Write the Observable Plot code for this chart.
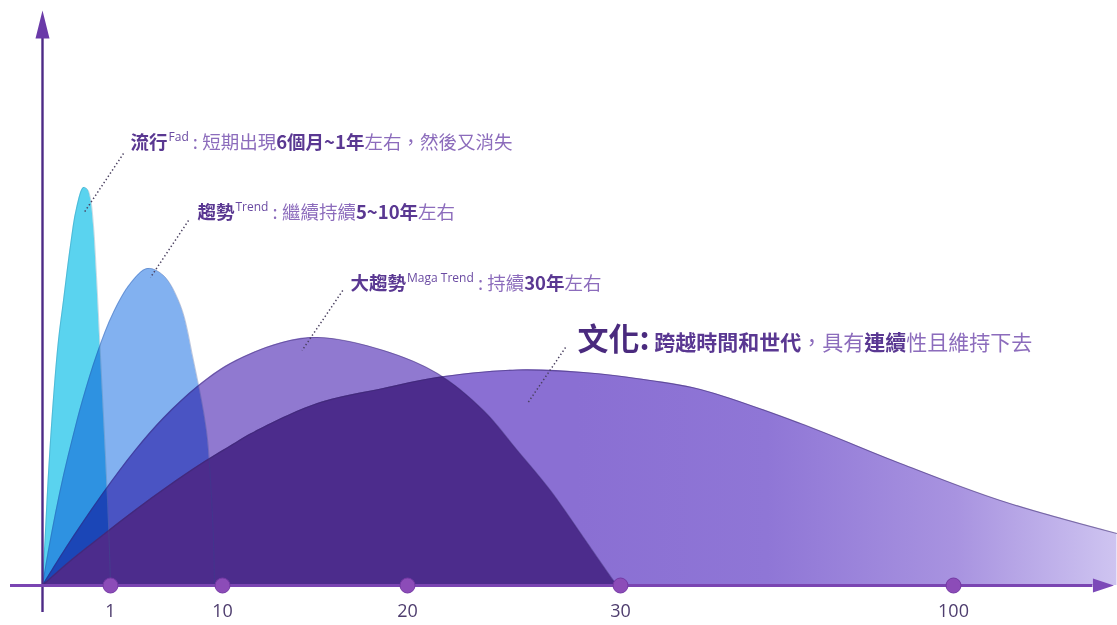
<!DOCTYPE html>
<html><head><meta charset="utf-8">
<script src="https://cdn.jsdelivr.net/npm/d3@7"></script>
<script src="https://cdn.jsdelivr.net/npm/@observablehq/plot@0.6"></script>
<style>
html,body{margin:0;padding:0;background:#fff;}
#chart{width:1117px;height:625px;overflow:hidden;}
</style></head><body><div id="chart"></div>
<script>
// ---- time axis (years), drawn unevenly in the original ----
const axisBreaks = [-0.47, 0, 1, 10, 20, 30, 100, 131];
const tickYears  = [1, 10, 20, 30, 100];
const tickLabels = ["1", "10", "20", "30", "100"];
const xAxisSpan  = [-0.47, 129.4];
const yAxisSpan  = [-5.4, 109.4];

// ---- curves: years vs. popularity (arbitrary units) ----
const fadYears  = [0, 0.037, 0.074, 0.118, 0.176, 0.235, 0.309, 0.412, 0.5, 0.603, 0.662, 0.706, 0.75, 0.794, 0.838, 0.882, 0.926, 0.956, 0.985, 1.0];
const fadValues = [0, 9, 19, 29, 40, 49, 57, 68, 75.4, 79.6, 79.2, 77.4, 72, 62, 50, 38, 26, 17, 7, 0];

const trendYears  = [0, 0.088, 0.191, 0.309, 0.441, 0.588, 0.809, 1.241, 2.607, 3.973, 5.259, 6.625, 7.67, 8.715, 9.036, 9.277, 9.357];
const trendValues = [0, 7, 14.4, 22, 29.4, 37, 46.6, 54.6, 60.4, 63.4, 62, 56, 45, 31, 21, 9, 0];

const megaYears  = [0, 0.382, 0.882, 3.009, 5.259, 7.991, 10.432, 13.135, 15.135, 18.703, 21.408, 23.568, 25.164, 26.714, 28.263, 29.671, 29.859];
const megaValues = [0, 8.3, 18.3, 27.1, 33.5, 39.8, 44.4, 48.5, 49.6, 47, 42.4, 35, 27, 19, 9.6, 1, 0];

const cultureYears  = [0, 0.382, 0.882, 3.009, 5.661, 8.393, 10.703, 11.514, 15.135, 18.703, 21.408, 25.164, 28.263, 36.306, 46.82, 67.84, 88.86, 109.88, 134.47];
const cultureValues = [0, 4.6, 10, 15.1, 19.9, 24.5, 28.5, 30.3, 36.4, 39.4, 41.6, 43.1, 42.6, 41, 39.2, 32.4, 24.4, 17, 10.4];

// ---- annotations ----
const annoNames  = ["流行", "趨勢", "大趨勢", "文化:"];
const annoSups   = ["Fad", "Trend", "Maga Trend", ""];
const annoTexts  = [" : 短期出現**6個月~1年**左右，然後又消失", " : 繼續持續**5~10年**左右", " : 持續**30年**左右", " **跨越時間和世代**，具有**連續**性且維持下去"];
const annoYears  = [2.607, 7.99, 16.92, 27.98];
const annoValues = [87.4, 73.4, 59.2, 47.2];
const leaderFromYears  = [2.045, 7.27, 16.5, 27.42];
const leaderFromValues = [86.4, 73, 59, 47.6];
const leaderToYears    = [0.603, 4.21, 14.3, 25.63];
const leaderToValues   = [74.4, 61.6, 47, 36.4];

const toRows = (xs, ys) => xs.map((x, i) => ({year: x, value: ys[i]}));
const fad = toRows(fadYears, fadValues);
const trend = toRows(trendYears, trendValues);
const mega = toRows(megaYears, megaValues);
const culture = toRows(cultureYears, cultureValues);
const annos = annoNames.map((n, i) => ({
  name: n, sup: annoSups[i], text: annoTexts[i],
  year: annoYears[i], value: annoValues[i],
  fx: leaderFromYears[i], fy: leaderFromValues[i], tx: leaderToYears[i], ty: leaderToValues[i]
}));

const W = 1117, H = 625;
const arrowUp = {draw(c) { c.moveTo(0, -28); c.lineTo(7, 0); c.lineTo(-7, 0); c.closePath(); }};
const arrowRight = {draw(c) { c.moveTo(21, 0); c.lineTo(0, -7); c.lineTo(0, 7); c.closePath(); }};
const curve = "catmull-rom";

const svg = Plot.plot({
  width: W, height: H,
  marginTop: 25, marginBottom: 40, marginLeft: 0, marginRight: 0,
  style: {background: "#fff", fontFamily: "'Noto Sans CJK TC', 'Noto Sans', sans-serif"},
  x: {type: "linear", domain: axisBreaks, range: [10, 42, 110, 222, 407, 620, 953, 1100], axis: null},
  y: {domain: [0, 112], axis: null},
  marks: [
    Plot.areaY(culture, {x: "year", y: "value", fill: "url(#cultureGrad)", curve}),
    Plot.areaY(mega, {x: "year", y: "value", fill: "#9079d0", curve}),
    Plot.areaY(trend, {x: "year", y: "value", fill: "#74a8ee", fillOpacity: 0.9, curve, mixBlendMode: "multiply"}),
    Plot.areaY(fad, {x: "year", y: "value", fill: "#5ad3ef", curve, mixBlendMode: "multiply"}),
    Plot.lineY(culture, {x: "year", y: "value", stroke: "#3a2870", strokeOpacity: 0.55, strokeWidth: 1.2, curve}),
    Plot.lineY(mega, {x: "year", y: "value", stroke: "#3a2870", strokeOpacity: 0.45, strokeWidth: 1.1, curve}),
    Plot.lineY(trend, {x: "year", y: "value", stroke: "#2a4a90", strokeOpacity: 0.3, strokeWidth: 1, curve}),
    Plot.lineY(fad, {x: "year", y: "value", stroke: "#2a7090", strokeOpacity: 0.25, strokeWidth: 1, curve}),
    // axes
    Plot.ruleX([0], {y1: yAxisSpan[0], y2: yAxisSpan[1], stroke: "#4d2a86", strokeWidth: 2.4}),
    Plot.dot([0], {x: d => d, y: yAxisSpan[1], symbol: arrowUp, fill: "#6a3aa8", stroke: "none"}),
    Plot.ruleY([0], {x1: xAxisSpan[0], x2: xAxisSpan[1], stroke: "#7a45b2", strokeWidth: 3}),
    Plot.dot([0], {x: xAxisSpan[1], y: d => d, symbol: arrowRight, fill: "#7c4ab8", stroke: "none"}),
    Plot.dot(tickYears, {x: d => d, y: 0, r: 7.5, fill: "#8c4cb8", stroke: "#7438a4", strokeWidth: 1}),
    Plot.text(tickYears, {x: d => d, y: 0, text: (d, i) => tickLabels[i], dy: 26, fontSize: 18,
      fill: "#4e3d6e", fontFamily: "'Open Sans', sans-serif"}),
    // annotations
    Plot.link(annos, {x1: "fx", y1: "fy", x2: "tx", y2: "ty", stroke: "#4a4060", strokeWidth: 1.5, strokeDasharray: "1.4 2.4"}),
    Plot.text(annos, {x: "year", y: "value", text: d => d.name + d.sup + d.text.replace(/\*\*/g, ""),
      textAnchor: "start", lineAnchor: "bottom", fontSize: 19, fill: "#8a6ab8"})
  ]
});

const ns = "http://www.w3.org/2000/svg";
const xs = svg.scale("x");
const defs = document.createElementNS(ns, "defs");
defs.innerHTML = `<linearGradient id="cultureGrad" gradientUnits="userSpaceOnUse" x1="${xs.apply(28)}" y1="0" x2="${xs.apply(135)}" y2="0">
  <stop offset="0" stop-color="#8a6fd3"/><stop offset="0.35" stop-color="#8f76d6"/><stop offset="0.7" stop-color="#a893e0"/><stop offset="1" stop-color="#cfc5f1"/></linearGradient>`;
svg.insertBefore(defs, svg.firstChild);

// overlap of culture and mega-trend: dark purple, drawn over the other areas
const areaGroups = svg.querySelectorAll('g[aria-label="area"]');
if (areaGroups.length === 4) {
  const [cultG, megaG, trendG, fadG] = areaGroups;
  const clip = document.createElementNS(ns, "clipPath");
  clip.setAttribute("id", "megaClip");
  clip.appendChild(megaG.querySelector("path").cloneNode(true));
  defs.appendChild(clip);
  const over = cultG.cloneNode(true);
  over.setAttribute("fill", "#4c2c8c");
  over.querySelectorAll("path").forEach(p => { p.setAttribute("fill", "#4c2c8c"); p.setAttribute("clip-path", "url(#megaClip)"); });
  fadG.after(over);
}

// rich text for annotations
const textGroups = svg.querySelectorAll('g[aria-label="text"]');
const annoGroup = textGroups[textGroups.length - 1];
annoGroup.querySelectorAll("text").forEach((t, i) => {
  const a = annos[i];
  const isCulture = a.sup === "";
  t.textContent = "";
  const add = (str, attrs) => {
    const s = document.createElementNS(ns, "tspan");
    for (const k in attrs) s.setAttribute(k, attrs[k]);
    s.textContent = str;
    t.appendChild(s);
    return s;
  };
  add(a.name, {"font-weight": 700, fill: isCulture ? "#4a2a7e" : "#5a3892", "font-size": isCulture ? 31 : 18.5});
  if (a.sup) {
    add(a.sup, {"font-size": 12, dy: -8, dx: 1, fill: "#6a4aa2", "font-family": "'Open Sans', sans-serif"});
  }
  a.text.split("**").forEach((p, j) => {
    const attrs = {fill: j % 2 ? "#5a3892" : "#8c6cbc", "font-weight": j % 2 ? 700 : 400, "font-size": isCulture ? 21 : 18.5};
    if (j === 0 && a.sup) attrs.dy = 8;
    add(p, attrs);
  });
});

document.getElementById("chart").appendChild(svg);
</script></body></html>
